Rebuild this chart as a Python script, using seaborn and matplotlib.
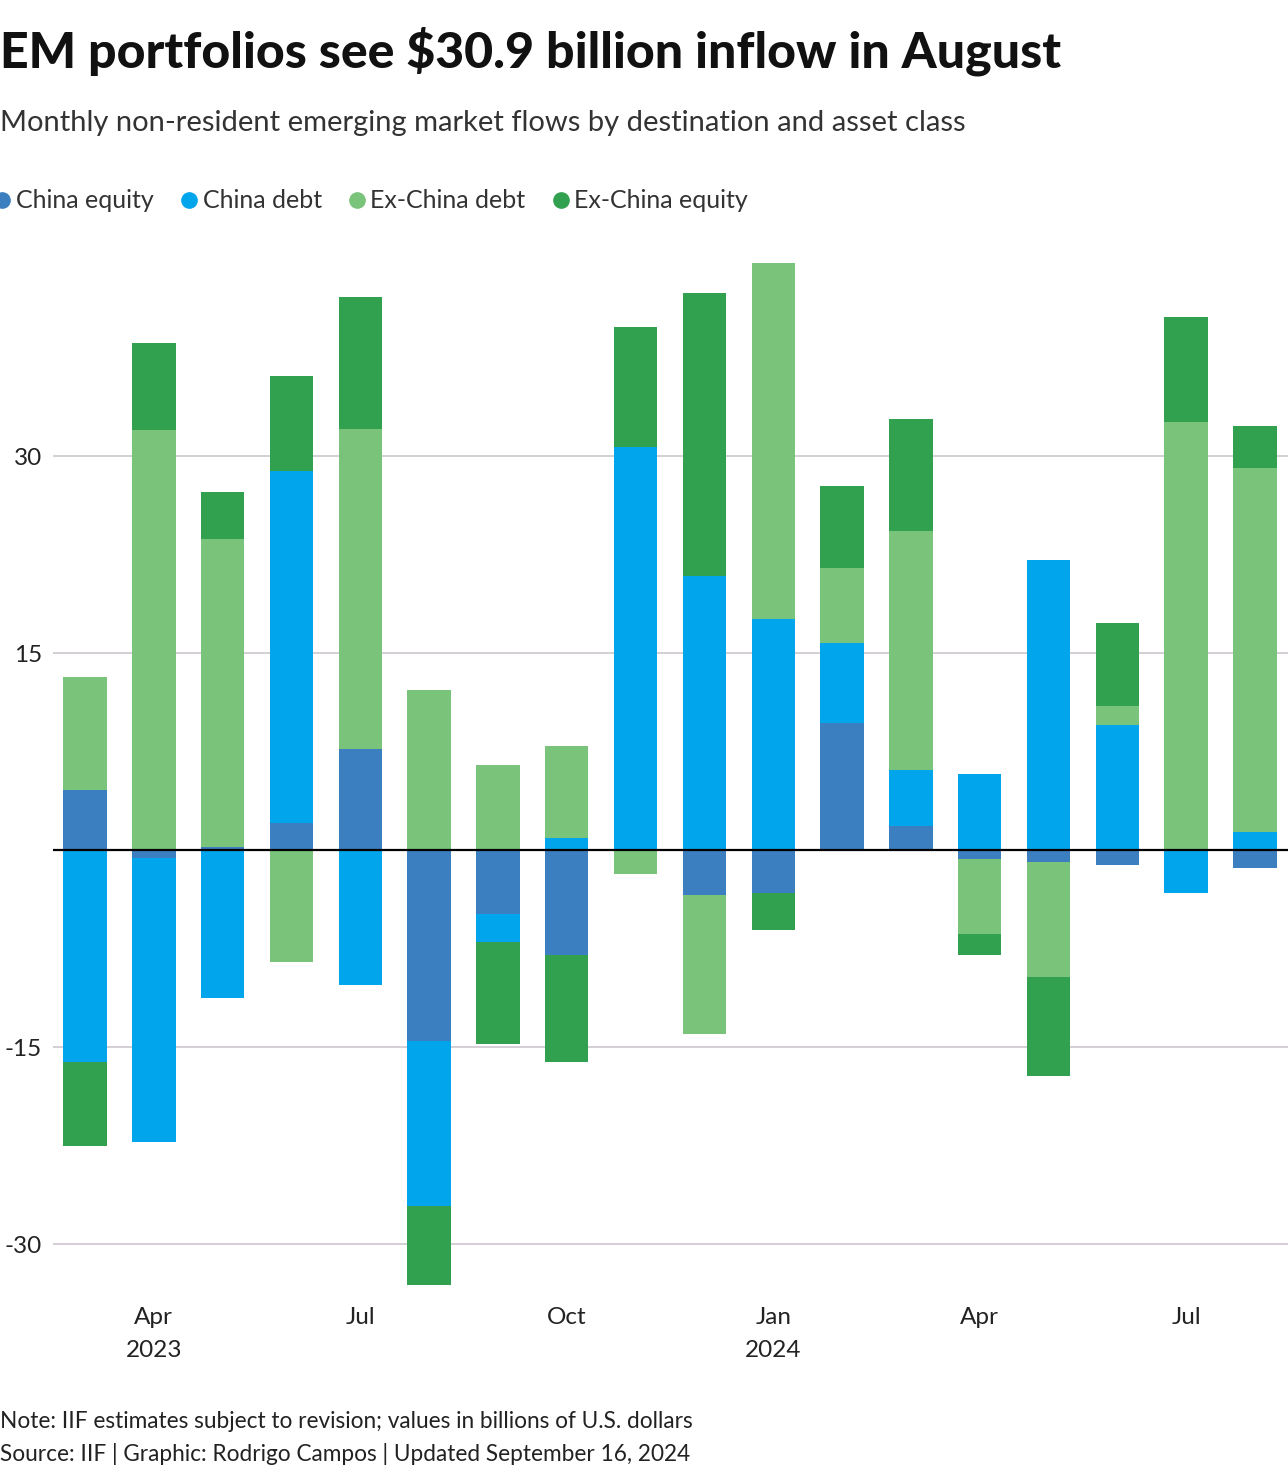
import numpy as np
import seaborn as sns
import matplotlib.pyplot as plt
from matplotlib.lines import Line2D

# months Mar 2023 - Aug 2024, values in billions of USD
months = ['2023-03', '2023-04', '2023-05', '2023-06', '2023-07', '2023-08',
          '2023-09', '2023-10', '2023-11', '2023-12', '2024-01', '2024-02',
          '2024-03', '2024-04', '2024-05', '2024-06', '2024-07', '2024-08']
china_equity = [4.6, -0.6, 0.2, 2.1, 7.7, -14.5, -4.9, -8.0, 0.0, -3.4, -3.3, 9.7,
                1.8, -0.7, -0.9, -1.1, 0.0, -1.4]
china_debt = [-16.1, -21.6, -11.3, 26.8, -10.3, -12.6, -2.1, 0.9, 30.7, 20.9, 17.6, 6.1,
              4.3, 5.8, 22.1, 9.5, -3.3, 1.4]
exchina_debt = [8.6, 32.0, 23.5, -8.5, 24.4, 12.2, 6.5, 7.0, -1.8, -10.6, 27.1, 5.7,
                18.2, -5.7, -8.8, 1.5, 32.6, 27.7]
exchina_equity = [-6.4, 6.6, 3.6, 7.2, 10.0, -6.0, -7.8, -8.1, 9.1, 21.5, -2.8, 6.2,
                  8.5, -1.6, -7.5, 6.3, 8.0, 3.2]

series_names = ['China equity', 'China debt', 'Ex-China debt', 'Ex-China equity']
series_colors = ['#3b7fc0', '#00a5ec', '#79c37a', '#31a04f']

tick_pos = [1, 4, 7, 10, 13, 16]
tick_labels = ['Apr\n2023', 'Jul', 'Oct', 'Jan\n2024', 'Apr', 'Jul']
y_ticks = [-30, -15, 15, 30]

sns.set_theme(style='white')
plt.rcParams['font.family'] = ['Lato', 'DejaVu Sans']

fig = plt.figure(figsize=(12.88, 14.76), dpi=100)
ax = fig.add_axes([53 / 1288, 186 / 1476, 1 - 53 / 1288, 1040 / 1476])

# stacked bars: positives and negatives stack separately.
# draw cumulative totals from the top layer down so each layer overlays the next
vals = np.array([china_equity, china_debt, exchina_debt, exchina_equity])
pos_cum = np.cumsum(np.clip(vals, 0, None), axis=0)
neg_cum = np.cumsum(np.clip(vals, None, 0), axis=0)

for k in range(3, -1, -1):
    for cum in (pos_cum, neg_cum):
        sns.barplot(x=months, y=cum[k], order=months, color=series_colors[k],
                    saturation=1, width=0.63, linewidth=0, errorbar=None, ax=ax)

ax.axhline(0, color='black', lw=1.6, zorder=5)
ax.set_yticks(y_ticks)
ax.set_yticklabels([str(v) for v in y_ticks])
ax.yaxis.grid(True, color='#c9c2ca', lw=1.1)
ax.set_axisbelow(True)
ax.set_xticks(tick_pos)
ax.set_xticklabels(tick_labels, linespacing=1.75)
ax.tick_params(axis='both', length=0, labelsize=17.5, colors='#222222')
ax.tick_params(axis='y', pad=8)
ax.tick_params(axis='x', pad=12)
ax.set_ylim(-33.5, 45.7)
ax.set_xlim(-0.465, 17.48)
ax.set_xlabel('')
ax.set_ylabel('')
sns.despine(ax=ax, left=True, bottom=True)

# titles
fig.text(0.0, 1 - 67 / 1476, 'EM portfolios see $30.9 billion inflow in August',
         fontsize=36, fontweight='black', color='#111111', va='baseline', ha='left')
fig.text(0.0, 1 - 131 / 1476,
         'Monthly non-resident emerging market flows by destination and asset class',
         fontsize=21, color='#333333', va='baseline', ha='left')

# legend
handles = [Line2D([0], [0], marker='o', ls='', markersize=11, color=c) for c in series_colors]
fig.legend(handles, series_names, loc='center left', bbox_to_anchor=(-0.006, 1 - 201 / 1476),
           ncol=4, frameon=False, fontsize=18, handletextpad=0.15, columnspacing=1.0,
           handlelength=0.8, borderaxespad=0, borderpad=0, labelcolor='#333333')

# footer
fig.text(0.0, 1 - 1428 / 1476,
         'Note: IIF estimates subject to revision; values in billions of U.S. dollars',
         fontsize=16.3, color='#222222', va='baseline', ha='left')
fig.text(0.0, 1 - 1461 / 1476,
         'Source: IIF | Graphic: Rodrigo Campos | Updated September 16, 2024',
         fontsize=16.3, color='#222222', va='baseline', ha='left')

fig.savefig('out.png', dpi=100)
